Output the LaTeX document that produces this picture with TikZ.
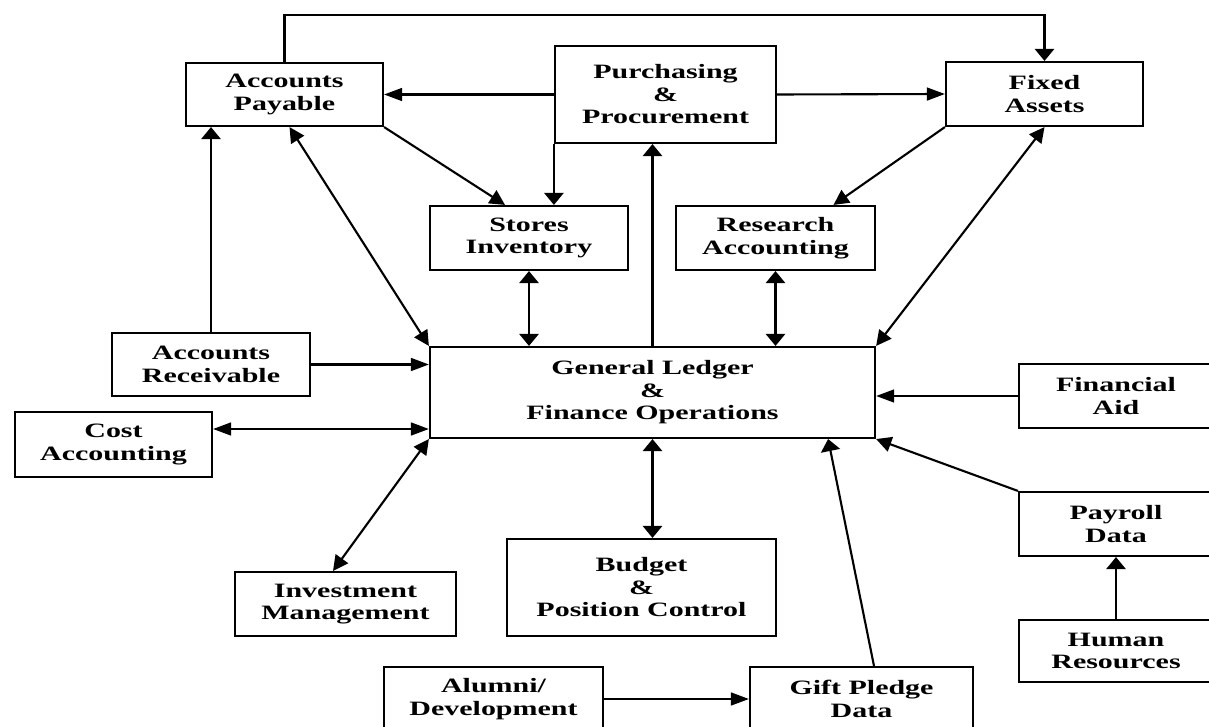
\documentclass[tikz,border=0pt]{standalone}
\usepackage{fontspec}
\usepackage{tikz}
\usetikzlibrary{arrows.meta,positioning,calc}
\newfontfamily\boxfont{Liberation Serif}[FakeStretch=1.47]

\tikzset{
  box/.style={draw,line width=1.5pt,inner sep=0pt,align=center,
    font=\boxfont\bfseries\fontsize{14.5}{16}\selectfont},
  link/.style={line width=1.5pt},
  htip/.tip={Triangle[length=0.45cm,width=0.32cm]},
  vtip/.tip={Triangle[length=0.3cm,width=0.48cm]},
  dtip/.tip={Triangle[length=0.38cm,width=0.38cm]},
}

\begin{document}
\begin{tikzpicture}[x=0.025cm,y=-0.025cm]
\useasboundingbox (0,0) rectangle (1209,727);
\clip (0,0) rectangle (1209,727);

% Top row
\node[box,minimum width=4.925cm,minimum height=1.575cm] (ap) at (284.5,94.5) {Accounts\\Payable};
\node[box,minimum width=5.525cm,minimum height=2.425cm] (pur) at (665.5,94.5) {Purchasing\\\&\\Procurement};
\node[box,minimum width=4.925cm,minimum height=1.6cm] (fa) at (1044.5,94) {Fixed\\Assets};

% Second row
\node[box,minimum width=4.95cm,minimum height=1.6cm] (stores) at (529,238) {Stores\\Inventory};
\node[box,minimum width=4.975cm,minimum height=1.6cm] (res) at (775.5,238) {Research\\Accounting};

% Centre
\node[box,minimum width=11.125cm,minimum height=2.275cm] (gl) at (652.5,392.5) {General Ledger\\\&\\Finance Operations};

% Left side
\node[box,minimum width=4.95cm,minimum height=1.575cm] (ar) at (211,364.5) {Accounts\\Receivable};
\node[box,minimum width=4.925cm,minimum height=1.625cm] (cost) at (113.5,444.5) {Cost\\Accounting};
\node[box,minimum width=5.525cm,minimum height=1.6cm] (inv) at (345.5,604) {Investment\\Management};

% Bottom
\node[box,minimum width=6.725cm,minimum height=2.425cm] (bud) at (641.5,587.5) {Budget\\\&\\Position Control};
\node[box,minimum width=5.475cm,minimum height=1.6cm] (alum) at (493.5,699) {Alumni/\\Development};
\node[box,minimum width=5.575cm,minimum height=1.6cm] (gift) at (861.5,699) {Gift Pledge\\Data};

% Right side
\node[box,minimum width=4.85cm,minimum height=1.6cm] (aid) at (1116,396) {Financial\\Aid};
\node[box,minimum width=4.85cm,minimum height=1.6cm] (pay) at (1116,524) {Payroll\\Data};
\node[box,minimum width=4.85cm,minimum height=1.55cm] (hr) at (1116,651) {Human\\Resources};

\coordinate (top) at (0,15);
\coordinate (costout) at ($(cost.east)+(0,-15.5)$);

% Connectors
\draw[link,-vtip] (ap.north) -- (ap.north |- top) -| (fa.north);
\draw[link,-htip] (pur.west) -- (ap.east);
\draw[link,-htip] (pur.east) -- (fa.west);
\draw[link,-vtip] (pur.south west) -- (pur.south west |- stores.north);
\draw[link,-dtip] (ap.south east) -- ($(stores.north)+(-24,0)$);
\draw[link,dtip-dtip] ($(ap.south)+(5,0)$) -- (gl.north west);
\draw[link,vtip-vtip] (stores.south) -- (stores.south |- gl.north);
\draw[link,-vtip] (gl.north) -- (gl.north |- pur.south);
\draw[link,-dtip] (fa.south west) -- ($(res.north)+(58,0)$);
\draw[link,vtip-vtip] (res.south) -- (res.south |- gl.north);
\draw[link,dtip-dtip] (fa.south) -- (gl.north east);

\draw[link,-vtip] (ar.north) -- (ar.north |- ap.south);
\draw[link,-htip] (ar.east) -- (ar.east -| gl.west);
\draw[link,htip-htip] (costout) -- (costout -| gl.west);
\draw[link,dtip-dtip] ($(inv.north)+(-12.5,0)$) -- (gl.south west);

\draw[link,vtip-vtip] (gl.south) -- (gl.south |- bud.north);
\draw[link,-htip] (alum.east) -- (gift.west);
\draw[link,-vtip] ($(gift.north)+(12.5,0)$) -- ($(gl.south east)+(-48,0)$);

\draw[link,-htip] (aid.west) -- (aid.west -| gl.east);
\draw[link,-dtip] (pay.north west) -- (gl.south east);
\draw[link,-vtip] (hr.north) -- (pay.south);
\end{tikzpicture}
\end{document}
